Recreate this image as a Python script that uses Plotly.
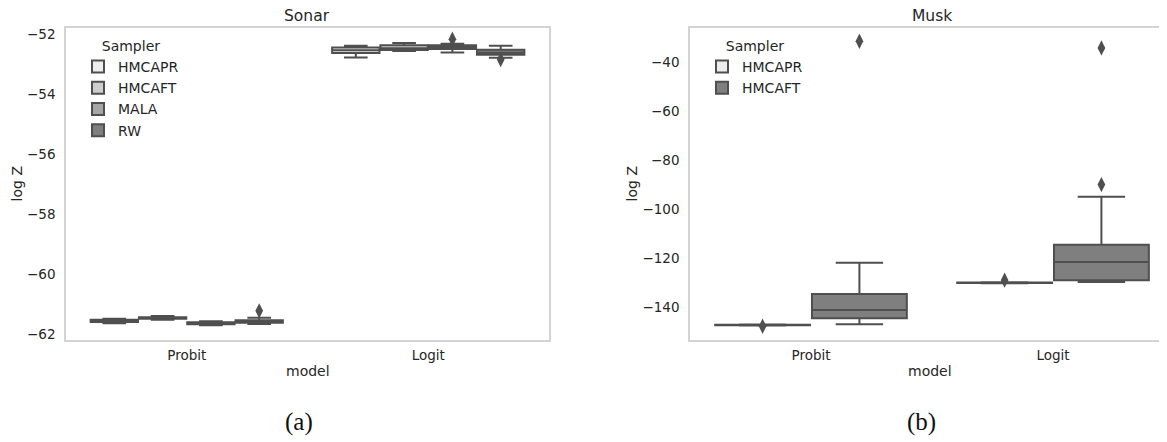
import plotly.graph_objects as go

# ---------------- data ----------------
models = ["Probit", "Logit"]

sonar_samplers = ["HMCAPR", "HMCAFT", "MALA", "RW"]
sonar_colors = ["#eeeeee", "#cdcdcd", "#a6a6a6", "#7f7f7f"]
# per sampler: [Probit, Logit]
sonar_lo = {"HMCAPR": [-61.63, -52.77], "HMCAFT": [-61.52, -52.55],
            "MALA": [-61.70, -52.60], "RW": [-61.66, -52.78]}
sonar_q1 = {"HMCAPR": [-61.59, -52.62], "HMCAFT": [-61.48, -52.52],
            "MALA": [-61.67, -52.49], "RW": [-61.62, -52.68]}
sonar_med = {"HMCAPR": [-61.56, -52.53], "HMCAFT": [-61.46, -52.46],
             "MALA": [-61.64, -52.43], "RW": [-61.58, -52.61]}
sonar_q3 = {"HMCAPR": [-61.52, -52.44], "HMCAFT": [-61.43, -52.36],
            "MALA": [-61.60, -52.36], "RW": [-61.53, -52.51]}
sonar_hi = {"HMCAPR": [-61.48, -52.38], "HMCAFT": [-61.39, -52.29],
            "MALA": [-61.57, -52.31], "RW": [-61.45, -52.38]}
sonar_out_sampler = ["RW", "MALA", "RW"]
sonar_out_model = ["Probit", "Logit", "Logit"]
sonar_out_value = [-61.22, -52.16, -52.84]

musk_samplers = ["HMCAPR", "HMCAFT"]
musk_colors = ["#eeeeee", "#7f7f7f"]
musk_lo = {"HMCAPR": [-147.5, -130.3], "HMCAFT": [-147.0, -129.8]}
musk_q1 = {"HMCAPR": [-147.4, -130.2], "HMCAFT": [-144.6, -129.0]}
musk_med = {"HMCAPR": [-147.3, -130.1], "HMCAFT": [-141.2, -121.6]}
musk_q3 = {"HMCAPR": [-147.2, -130.0], "HMCAFT": [-134.7, -114.5]}
musk_hi = {"HMCAPR": [-147.1, -129.9], "HMCAFT": [-121.9, -95.0]}
musk_out_sampler = ["HMCAPR", "HMCAFT", "HMCAPR", "HMCAFT", "HMCAFT"]
musk_out_model = ["Probit", "Probit", "Logit", "Logit", "Logit"]
musk_out_value = [-147.8, -31.5, -129.0, -90.0, -34.2]

sonar_yticks = [-52, -54, -56, -58, -60, -62]
musk_yticks = [-40, -60, -80, -100, -120, -140]

# ---------------- style ----------------
EDGE = "#4f4f4f"
TXT = "#262626"
FRAME = "#d4d4d4"
FONT = "DejaVu Sans"
OFF = 8                      # default page margin of the html body
W, H = 1167 - OFF, 442 - OFF


def px_x(p):
    return (p - OFF) / W


def px_y(p):
    return 1 - (p - OFF) / H


fig = go.Figure()


def add_panel(samplers, colors, lo, q1, med, q3, hi, out_s, out_m, out_v, xa, ya, leg):
    n = len(samplers)
    w = 0.8 / n
    for h, s in enumerate(samplers):
        pos = [i + (h - (n - 1) / 2) * w for i in range(len(models))]
        fig.add_trace(go.Box(
            x=pos, q1=q1[s], median=med[s], q3=q3[s],
            lowerfence=lo[s], upperfence=hi[s],
            width=w * 0.98, whiskerwidth=0.5,
            fillcolor=colors[h], line=dict(color=EDGE, width=2),
            name=s, boxpoints=False, xaxis=xa, yaxis=ya, legend=leg,
            hoverinfo="skip"))
    ox = [models.index(m) + (samplers.index(s) - (n - 1) / 2) * w
          for s, m in zip(out_s, out_m)]
    fig.add_trace(go.Scatter(
        x=ox, y=out_v, mode="markers", showlegend=False,
        marker=dict(symbol="diamond-tall", size=11, color=EDGE,
                    line=dict(width=0)),
        xaxis=xa, yaxis=ya, hoverinfo="skip"))


add_panel(sonar_samplers, sonar_colors, sonar_lo, sonar_q1, sonar_med,
          sonar_q3, sonar_hi, sonar_out_sampler, sonar_out_model,
          sonar_out_value, "x", "y", "legend")
add_panel(musk_samplers, musk_colors, musk_lo, musk_q1, musk_med,
          musk_q3, musk_hi, musk_out_sampler, musk_out_model,
          musk_out_value, "x2", "y2", "legend2")

ydom = [px_y(341), px_y(26)]

axcommon = dict(showgrid=False, zeroline=False, showline=True,
                linecolor=FRAME, linewidth=1.5, ticks="",
                tickfont=dict(family=FONT, size=13.5, color=TXT))

legcommon = dict(xanchor="left", yanchor="top",
                 bgcolor="rgba(0,0,0,0)", font=dict(family=FONT, size=14, color=TXT),
                 title=dict(text="Sampler", side="top center",
                            font=dict(family=FONT, size=14, color=TXT)),
                 itemclick=False, tracegroupgap=0)

fig.update_layout(
    width=W, height=H,
    margin=dict(l=0, r=0, t=0, b=0),
    paper_bgcolor="white", plot_bgcolor="white",
    font=dict(family=FONT, color=TXT),
    showlegend=True,
    xaxis=dict(domain=[px_x(66), px_x(549)], range=[-0.5, 1.5],
               tickvals=[0, 1], ticktext=models, mirror=True,
               ticklabelstandoff=2, **axcommon),
    yaxis=dict(domain=ydom, range=[-62.19, -51.78], tickvals=sonar_yticks,
               mirror=True, ticklabelstandoff=6, **axcommon),
    xaxis2=dict(domain=[px_x(690), 1.0], range=[-0.5, 1.471], anchor="y2",
                tickvals=[0, 1], ticktext=models, mirror=True,
                ticklabelstandoff=2, **axcommon),
    yaxis2=dict(domain=ydom, range=[-153.4, -26.0], tickvals=musk_yticks,
                anchor="x2", mirror=False, ticklabelstandoff=6, **axcommon),
    legend=dict(x=px_x(78), y=px_y(31), **legcommon),
    legend2=dict(x=px_x(702), y=px_y(31), **legcommon),
)

ann = [
    dict(text="Sonar", x=307.5, y=14, size=15.5, angle=0, fam=FONT, col=TXT),
    dict(text="Musk", x=932, y=14, size=15.5, angle=0, fam=FONT, col=TXT),
    dict(text="model", x=308, y=372, size=14, angle=0, fam=FONT, col=TXT),
    dict(text="model", x=930, y=372, size=14, angle=0, fam=FONT, col=TXT),
    dict(text="log Z", x=17, y=184, size=14, angle=-90, fam=FONT, col=TXT),
    dict(text="log Z", x=632, y=184, size=14, angle=-90, fam=FONT, col=TXT),
    dict(text="(a)", x=299, y=424, size=25, angle=0, fam="Liberation Serif", col="#111111"),
    dict(text="(b)", x=921, y=424, size=25, angle=0, fam="Liberation Serif", col="#111111"),
]
for a in ann:
    fig.add_annotation(text=a["text"], x=px_x(a["x"]), y=px_y(a["y"]),
                       xref="paper", yref="paper", showarrow=False,
                       xanchor="center", yanchor="middle", textangle=a["angle"],
                       font=dict(family=a["fam"], size=a["size"], color=a["col"]))

fig.write_html("out.html")
